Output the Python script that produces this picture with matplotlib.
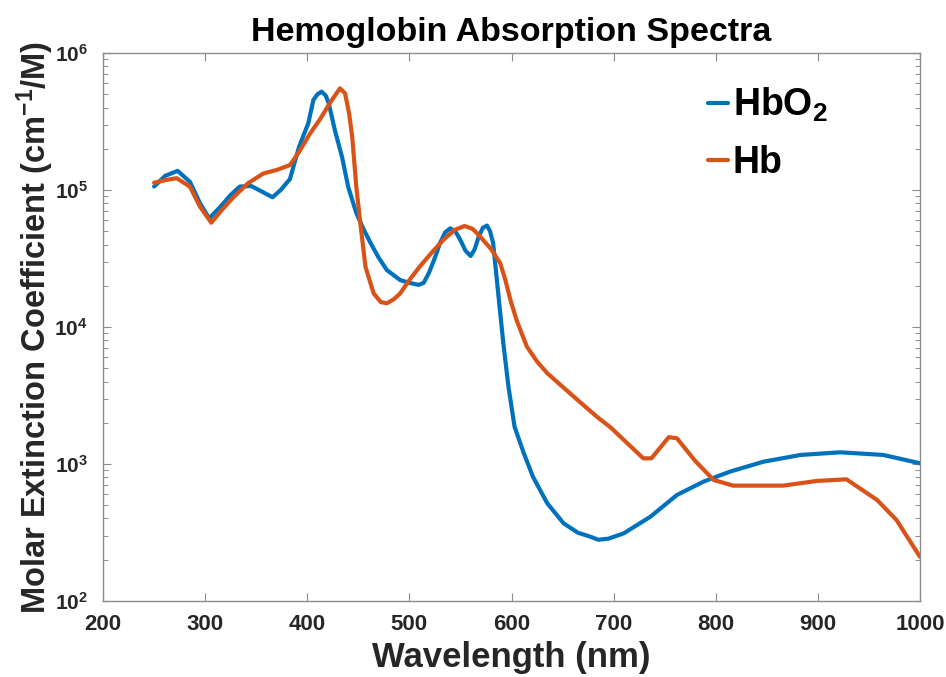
import matplotlib
matplotlib.use("Agg")
import matplotlib.pyplot as plt
from matplotlib.ticker import FixedLocator, FuncFormatter, LogLocator, NullFormatter
import numpy as np

plt.rcParams["font.family"] = ["Liberation Sans", "DejaVu Sans"]
plt.rcParams["font.weight"] = "bold"
plt.rcParams["mathtext.fontset"] = "custom"
plt.rcParams["mathtext.rm"] = "Liberation Sans:bold"
plt.rcParams["mathtext.bf"] = "Liberation Sans:bold"
plt.rcParams["mathtext.it"] = "Liberation Sans:bold"

# (nm, molar extinction coefficient)
hbo2_nm = [250, 261, 273, 285, 295, 304, 315, 325, 334, 345, 356, 366, 374,
           383, 392, 401, 406, 410, 414, 418, 421, 427, 434, 440, 448, 455,
           462, 470, 478, 491, 500, 509, 514, 519, 525, 530, 535, 540, 545,
           550, 555, 560, 564, 568, 572, 576, 579, 582, 587, 592, 597, 603,
           612, 621, 635, 651, 665, 677, 685, 695, 710, 736, 762, 788, 814,
           847, 883, 922, 964, 1000]
hbo2_val = [1.06e5, 1.27e5, 1.38e5, 1.15e5, 8.0e4, 6.2e4, 7.55e4, 9.2e4,
            1.06e5, 1.07e5, 9.7e4, 8.85e4, 1.0e5, 1.2e5, 2.07e5, 3.07e5,
            4.54e5, 5.0e5, 5.22e5, 4.9e5, 4.3e5, 2.74e5, 1.75e5, 1.06e5,
            6.8e4, 5.2e4, 4.1e4, 3.2e4, 2.6e4, 2.2e4, 2.1e4, 2.03e4, 2.1e4,
            2.47e4, 3.2e4, 4.1e4, 4.9e4, 5.25e4, 5.0e4, 4.3e4, 3.6e4, 3.3e4,
            3.7e4, 4.6e4, 5.3e4, 5.5e4, 5.0e4, 4.1e4, 1.76e4, 7.6e3, 3.67e3,
            1.87e3, 1.2e3, 807, 517, 369, 315, 295, 280, 285, 312, 412, 594,
            743, 880, 1040, 1164, 1217, 1164, 1012]

hb_nm = [250, 261, 272, 285, 295, 306, 316, 328, 342, 357, 370, 383, 392,
         403, 412, 422, 432, 437, 441, 444, 448, 452, 457, 465, 472, 478,
         485, 491, 500, 510, 522, 533, 544, 554, 562, 569, 580, 589, 594,
         599, 605, 615, 625, 635, 661, 684, 697, 729, 737, 745, 754, 762,
         780, 798, 817, 866, 899, 928, 958, 977, 1000]
hb_val = [1.13e5, 1.18e5, 1.22e5, 1.06e5, 7.55e4, 5.77e4, 7.1e4, 8.9e4,
          1.12e5, 1.32e5, 1.4e5, 1.52e5, 1.9e5, 2.6e5, 3.24e5, 4.3e5,
          5.52e5, 5.08e5, 3.6e5, 2.45e5, 1.06e5, 5.7e4, 2.75e4, 1.76e4,
          1.52e4, 1.49e4, 1.6e4, 1.76e4, 2.2e4, 2.75e4, 3.5e4, 4.3e4,
          5.1e4, 5.46e4, 5.2e4, 4.6e4, 3.7e4, 2.92e4, 2.2e4, 1.57e4,
          1.12e4, 7.2e3, 5.6e3, 4.6e3, 3.1e3, 2.2e3, 1.85e3, 1.10e3,
          1.10e3, 1.3e3, 1.57e3, 1.54e3, 1.05e3, 764, 695, 695, 752, 773,
          546, 390, 210]

x_ticks = [200, 300, 400, 500, 600, 700, 800, 900, 1000]

BLUE = "#0072BD"
ORANGE = "#D95319"
INK = "#262626"
AXC = "#8c8c8c"

fig = plt.figure(figsize=(9.46, 6.77), dpi=100)
ax = fig.add_axes([0.1089, 0.1123, 0.8636, 0.8094])

ax.plot(hbo2_nm, hbo2_val, color=BLUE, lw=3.0, label="HbO$_2$",
        solid_joinstyle="round", solid_capstyle="round")
ax.plot(hb_nm, hb_val, color=ORANGE, lw=3.0, label="Hb",
        solid_joinstyle="round", solid_capstyle="round")

ax.set_yscale("log")
ax.set_xlim(200, 1000)
ax.set_ylim(1e2, 1e6)
ax.xaxis.set_major_locator(FixedLocator(x_ticks))
ax.yaxis.set_major_locator(LogLocator(base=10, numticks=10))
ax.yaxis.set_minor_locator(LogLocator(base=10, subs=np.arange(2, 10), numticks=10))
ax.yaxis.set_minor_formatter(NullFormatter())
ax.yaxis.set_major_formatter(FuncFormatter(
    lambda v, p: r"$\mathbf{10^{%d}}$" % round(np.log10(v))))

for s in ax.spines.values():
    s.set_color(AXC)
    s.set_linewidth(1.0)
ax.tick_params(which="both", direction="in", top=True, right=True,
               color=AXC, labelcolor=INK, labelsize=16)
ax.tick_params(which="major", length=6, width=0.8)
ax.tick_params(which="minor", length=3.5, width=0.7)
ax.tick_params(axis="x", which="major", pad=9.5)
ax.tick_params(axis="y", which="major", pad=11, labelsize=15)

ax.set_xlabel("Wavelength (nm)", fontsize=25, fontweight="bold", color=INK,
              labelpad=4.5)
ax.set_ylabel(r"Molar Extinction Coefficient (cm$^{\mathbf{-1}}$/M)",
              fontsize=23.5, fontweight="bold", color=INK)
ax.yaxis.set_label_coords(-0.058, 0.5)
ax.set_title("Hemoglobin Absorption Spectra", fontsize=24.5, fontweight="bold",
             color="black", pad=9)

leg = ax.legend(loc="upper left", bbox_to_anchor=(0.74, 0.94), frameon=False,
                fontsize=27, handlelength=0.55, handletextpad=0.12,
                labelspacing=0.55, borderpad=0, borderaxespad=0)
for t in leg.get_texts():
    t.set_color("black")

fig.savefig("out.png", dpi=100, facecolor="white")
